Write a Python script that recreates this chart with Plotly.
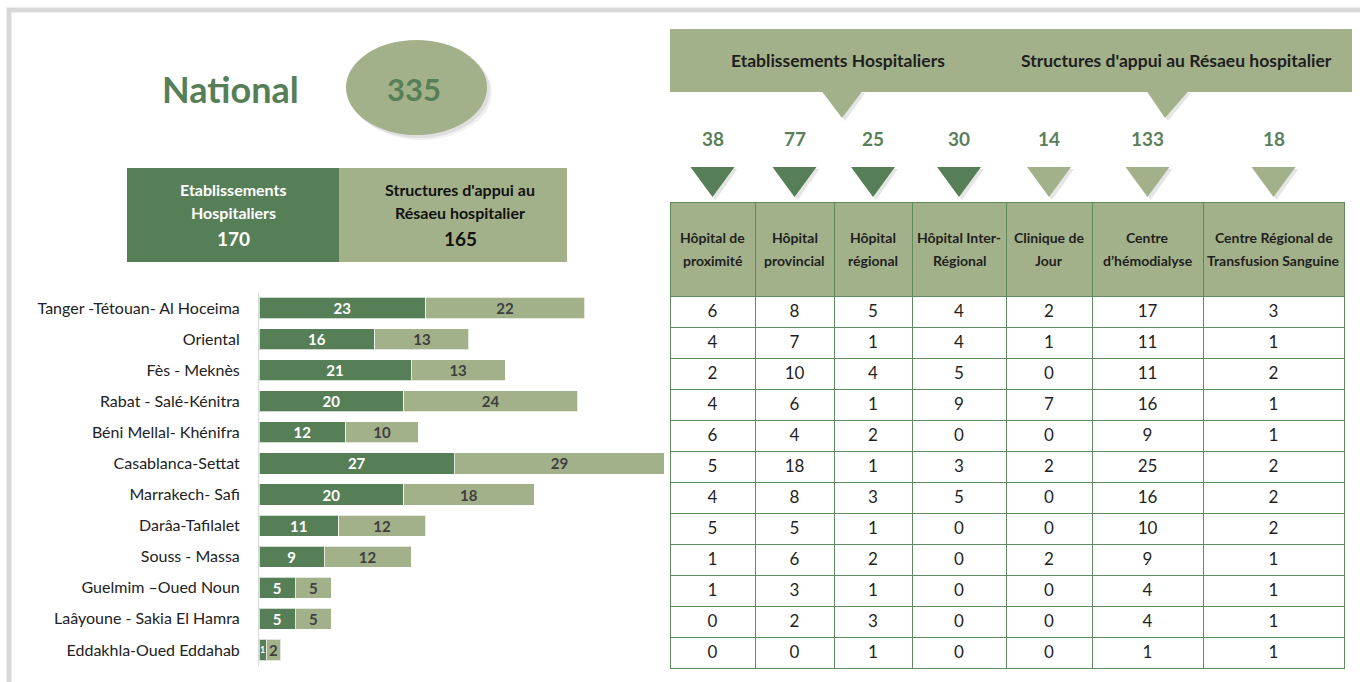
import plotly.graph_objects as go

W, H = 1360, 682
FONT = "Lato, 'Open Sans', sans-serif"
DARK = "#567F57"
LIGHT = "#A3B18A"
NUM_GREEN = "#5B8059"

# ---------------- data ----------------
regions = ["Tanger -Tétouan- Al Hoceima", "Oriental", "Fès - Meknès", "Rabat - Salé-Kénitra",
           "Béni Mellal- Khénifra", "Casablanca-Settat", "Marrakech- Safi", "Darâa-Tafilalet",
           "Souss - Massa", "Guelmim –Oued Noun", "Laâyoune - Sakia El Hamra", "Eddakhla-Oued Eddahab"]
etab_hosp = [23, 16, 21, 20, 12, 27, 20, 11, 9, 5, 5, 1]
struct_appui = [22, 13, 13, 24, 10, 29, 18, 12, 12, 5, 5, 2]

national_total = 335
total_etab = 170
total_struct = 165

col_headers = [("Hôpital de", "proximité"), ("Hôpital", "provincial"), ("Hôpital", "régional"),
               ("Hôpital Inter-", "Régional"), ("Clinique de", "Jour"), ("Centre", "d’hémodialyse"),
               ("Centre Régional de", "Transfusion Sanguine")]
col_totals = [38, 77, 25, 30, 14, 133, 18]
hop_proximite = [6, 4, 2, 4, 6, 5, 4, 5, 1, 1, 0, 0]
hop_provincial = [8, 7, 10, 6, 4, 18, 8, 5, 6, 3, 2, 0]
hop_regional = [5, 1, 4, 1, 2, 1, 3, 1, 2, 1, 3, 1]
hop_inter_regional = [4, 4, 5, 9, 0, 3, 5, 0, 0, 0, 0, 0]
clinique_jour = [2, 1, 0, 7, 0, 2, 0, 0, 2, 0, 0, 0]
centre_hemodialyse = [17, 11, 11, 16, 9, 25, 16, 10, 9, 4, 4, 1]
crts = [3, 1, 2, 1, 1, 2, 2, 2, 1, 1, 1, 1]
table_cols = [hop_proximite, hop_provincial, hop_regional, hop_inter_regional,
              clinique_jour, centre_hemodialyse, crts]
col_is_etab = [True, True, True, True, False, False, False]


def X(px):
    return px / W


def Y(py):
    return 1 - py / H


fig = go.Figure()

# ---------------- stacked bars ----------------
fig.add_trace(go.Bar(
    y=regions, x=etab_hosp, orientation="h", name="Etablissements Hospitaliers",
    marker=dict(color=DARK, line=dict(color="rgba(255,255,255,0.7)", width=1)),
    texttemplate="<b>%{x}</b>", textposition="inside", insidetextanchor="middle", textangle=0,
    constraintext="none",
    textfont=dict(family=FONT, size=[15 if v >= 2 else 9 for v in etab_hosp], color="white"),
    hoverinfo="skip"))
fig.add_trace(go.Bar(
    y=regions, x=struct_appui, orientation="h", name="Structures d'appui",
    marker=dict(color=LIGHT, line=dict(color="rgba(255,255,255,0.7)", width=1)),
    texttemplate="<b>%{x}</b>", textposition="inside", insidetextanchor="middle", textangle=0,
    constraintext="none",
    textfont=dict(family=FONT, size=15, color="#3F3F3F"), hoverinfo="skip"))

# ---------------- table ----------------
col_w = [85, 79, 78, 94, 86, 111, 141]
tx0, tx1 = 670, 1344
fig.add_trace(go.Table(
    domain=dict(x=[X(tx0), X(tx1)], y=[Y(678), Y(202)]),
    columnwidth=col_w,
    header=dict(values=[""] * len(col_headers),
                fill_color=LIGHT, line=dict(color="#5E8A5C", width=1),
                align="center", height=94,
                font=dict(family=FONT, size=13, color="#1F1F1F")),
    cells=dict(values=table_cols, fill_color="white",
               line=dict(color="#5E8A5C", width=1), align="center", height=31,
               font=dict(family=FONT, size=17, color="#1F1F1F"))))

shapes = []
annotations = []


def ann(x, y, text, size, color, **kw):
    annotations.append(dict(x=X(x), y=Y(y), xref="paper", yref="paper", showarrow=False,
                            xanchor="center", yanchor="middle", text=text,
                            font=dict(family=FONT, size=size, color=color), **kw))


# frame
shapes.append(dict(type="rect", xref="paper", yref="paper", x0=X(9), x1=X(1380), y0=Y(700), y1=Y(10),
                   line=dict(color="#D9D9D9", width=5), fillcolor="rgba(0,0,0,0)", layer="below"))

# National ellipse with soft shadow
for off, a in [(5, 0.05), (3, 0.08)]:
    shapes.append(dict(type="circle", xref="paper", yref="paper", x0=X(346 + off), x1=X(487 + off),
                       y0=Y(135 + off), y1=Y(40 + off), fillcolor=f"rgba(0,0,0,{a})", line=dict(width=0)))
shapes.append(dict(type="circle", xref="paper", yref="paper", x0=X(346), x1=X(487), y0=Y(135), y1=Y(40),
                   fillcolor=LIGHT, line=dict(width=0)))
ann(230, 89, "<b>National</b>", 36, DARK)
ann(414, 89, f"<b>{national_total}</b>", 31, DARK)

# summary boxes
shapes.append(dict(type="rect", xref="paper", yref="paper", x0=X(127), x1=X(339), y0=Y(262), y1=Y(168),
                   fillcolor=DARK, line=dict(width=0)))
shapes.append(dict(type="rect", xref="paper", yref="paper", x0=X(339), x1=X(567), y0=Y(262), y1=Y(168),
                   fillcolor=LIGHT, line=dict(width=0)))
for cx, l1, l2, tot, col in [(233, "Etablissements", "Hospitaliers", total_etab, "white"),
                             (460, "Structures d'appui au", "Résaeu hospitalier", total_struct, "#111111")]:
    ann(cx, 190, f"<b>{l1}</b>", 16, col)
    ann(cx, 213, f"<b>{l2}</b>", 16, col)
    ann(cx, 238, f"<b>{tot}</b>", 19, col)

# header band with callouts
shapes.append(dict(type="rect", xref="paper", yref="paper", x0=X(670), x1=X(1352), y0=Y(92), y1=Y(29),
                   fillcolor=LIGHT, line=dict(width=0)))


def tri(x0, x1, ytop, xa, ya, fill):
    return dict(type="path", xref="paper", yref="paper",
                path=f"M {X(x0)},{Y(ytop)} L {X(x1)},{Y(ytop)} L {X(xa)},{Y(ya)} Z",
                fillcolor=fill, line=dict(width=0))


for (a, b, xa) in [(822, 862, 842), (1147, 1188, 1165)]:
    shapes.append(tri(a + 3, b + 3, 93, xa + 3, 121, "rgba(0,0,0,0.10)"))
    shapes.append(tri(a, b, 91.5, xa, 118, LIGHT))
ann(838, 60, "<b>Etablissements Hospitaliers</b>", 17.5, "#1F1F1F")
ann(1176, 60, "<b>Structures d'appui au Résaeu hospitalier</b>", 17.5, "#1F1F1F")

# column totals, small triangles and header labels
tot_w = sum(col_w)
xs = tx0
for w, t, is_e, (h1, h2) in zip(col_w, col_totals, col_is_etab, col_headers):
    cxp = xs + w * (tx1 - tx0) / tot_w / 2
    xs += w * (tx1 - tx0) / tot_w
    ann(cxp, 138, f"<b>{t}</b>", 19, NUM_GREEN)
    fill = DARK if is_e else LIGHT
    shapes.append(tri(cxp - 22 + 3, cxp + 22 + 3, 169, cxp + 3, 200, "rgba(0,0,0,0.10)"))
    shapes.append(tri(cxp - 22, cxp + 22, 167, cxp, 197, fill))
    ann(cxp, 237, f"<b>{h1}</b>", 14, "#1F1F1F")
    ann(cxp, 260, f"<b>{h2}</b>", 14, "#1F1F1F")

fig.update_layout(
    width=W, height=H, margin=dict(l=0, r=0, t=0, b=0),
    paper_bgcolor="white", plot_bgcolor="white",
    barmode="stack", bargap=0.32, showlegend=False,
    shapes=shapes, annotations=annotations,
    xaxis=dict(domain=[X(259), X(665)], range=[0, 56.08], visible=False, fixedrange=True),
    yaxis=dict(domain=[Y(665.5), Y(292.5)], categoryorder="array", categoryarray=regions,
               autorange="reversed", showline=True, linecolor="#D9D9D9", linewidth=1,
               ticks="", ticklabelstandoff=15, showgrid=False,
               tickfont=dict(family=FONT, size=16, color="#222222")),
    font=dict(family=FONT),
)

fig.write_html("out.html", config={"displayModeBar": False},
               post_script="document.body.style.margin='0';")
